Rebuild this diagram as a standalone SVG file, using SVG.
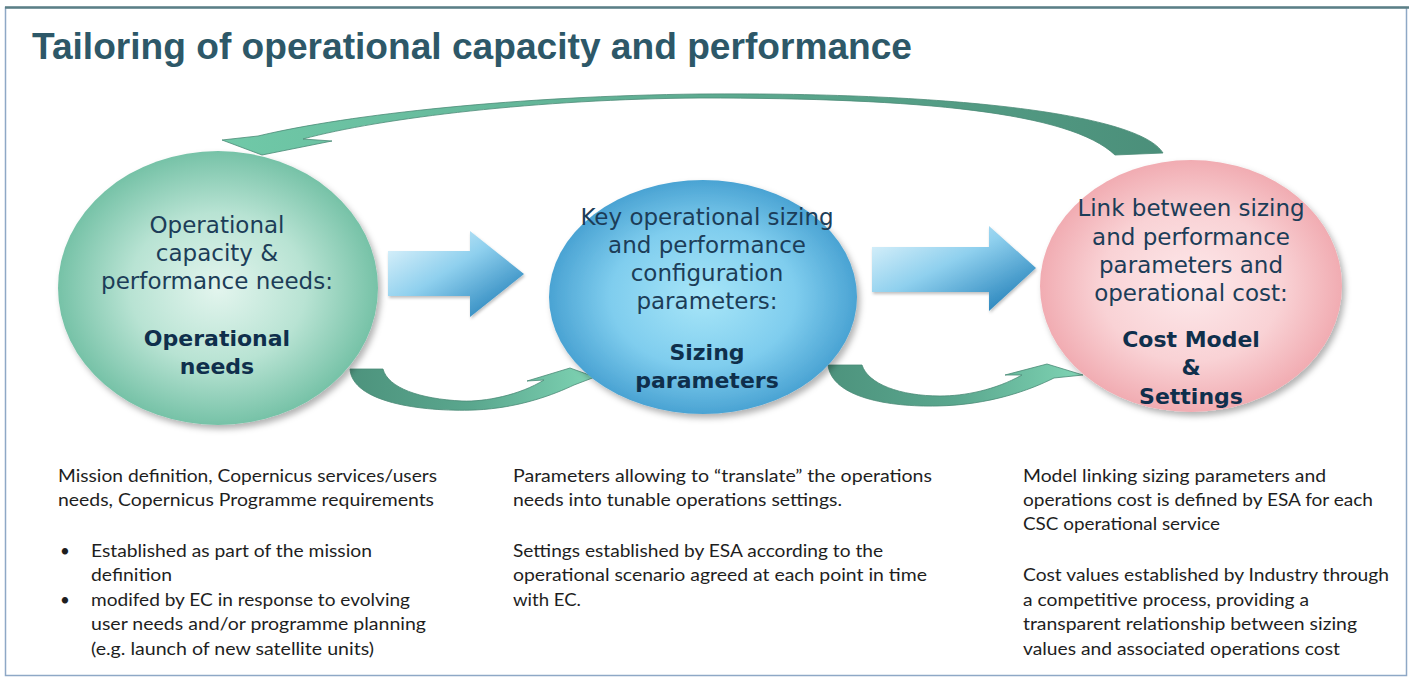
<svg xmlns="http://www.w3.org/2000/svg" width="1409" height="678" viewBox="0 0 1409 678">
<defs>
<style>
.title{font-family:"Liberation Sans",Arial,sans-serif;font-weight:bold;font-size:36px;fill:#2d5868}
.ct{font-family:"DejaVu Sans",Verdana,sans-serif;font-size:23px;fill:#1c3d58;text-anchor:middle}
.cb{font-family:"DejaVu Sans",Verdana,sans-serif;font-size:22px;font-weight:bold;fill:#0f2f4c;text-anchor:middle}
.bt{font-family:Lato,"Liberation Sans",sans-serif;font-size:17px;fill:#1e1e1e}
.curve{stroke:#4a8a76;stroke-width:0.8}
</style>
<radialGradient id="gGreen" cx="0.5" cy="0.5" r="0.5">
<stop offset="0" stop-color="#e3f5ee"/><stop offset="0.55" stop-color="#b8e3d3"/><stop offset="1" stop-color="#76c2a7"/>
</radialGradient>
<radialGradient id="gBlue" cx="0.5" cy="0.5" r="0.5">
<stop offset="0" stop-color="#a8e6f8"/><stop offset="0.6" stop-color="#7fcdee"/><stop offset="1" stop-color="#4aa3d3"/>
</radialGradient>
<radialGradient id="gPink" cx="0.5" cy="0.5" r="0.5">
<stop offset="0" stop-color="#fde9eb"/><stop offset="0.6" stop-color="#f9d2d5"/><stop offset="1" stop-color="#f1acb2"/>
</radialGradient>
<linearGradient id="gArrow" x1="0" y1="0" x2="1" y2="1">
<stop offset="0" stop-color="#eaf8fd"/><stop offset="0.45" stop-color="#8fd0ee"/><stop offset="1" stop-color="#0f72b0"/>
</linearGradient>
<linearGradient id="gTop" x1="0" y1="0" x2="1" y2="0">
<stop offset="0" stop-color="#70c9a8"/><stop offset="1" stop-color="#4b8f7a"/>
</linearGradient>
<linearGradient id="gLow" x1="0" y1="0" x2="1" y2="0">
<stop offset="0" stop-color="#4d937d"/><stop offset="0.5" stop-color="#5aa78e"/><stop offset="1" stop-color="#7fd4b4"/>
</linearGradient>
<filter id="shadow" x="-10%" y="-10%" width="125%" height="125%">
<feDropShadow dx="3" dy="4" stdDeviation="3" flood-color="#000" flood-opacity="0.3"/>
</filter>
<filter id="ashadow" x="-10%" y="-10%" width="130%" height="130%">
<feDropShadow dx="1" dy="2" stdDeviation="1.5" flood-color="#000" flood-opacity="0.25"/>
</filter>
</defs>
<rect x="0" y="0" width="1409" height="678" fill="#ffffff"/>
<rect x="5.5" y="7.5" width="1401" height="668" fill="none" stroke="#8ea8c6" stroke-width="1.5"/>
<line x1="5" y1="7.5" x2="1409" y2="7.5" stroke="#5b7f86" stroke-width="2.5"/>
<text class="title" x="32" y="59" textLength="880" lengthAdjust="spacingAndGlyphs">Tailoring of operational capacity and performance</text>

<g id="connectors">
<path class="curve" fill="url(#gTop)" d="M1163,153 C1140,115 960,92 700,94 C520,96 350,114 258,136 L222,140 L262,155 L332,141 L303,139 C380,118 540,99 700,98 C920,98 1070,112 1115,155 Z"/>
<path class="curve" fill="url(#gLow)" d="M350,369 C352,402 420,412 475,410 C520,408 555,394 574,385 L595,377 L570,368 L527,381 L544,380 C520,395 485,402 462,401 C420,399 388,388 383,369 Z"/>
<path class="curve" fill="url(#gLow)" d="M828,365 C832,398 890,407 937,406 C990,405 1030,390 1054,378 L1083,375 L1047,364 L1005,375 L1022,375 C995,390 965,396 940,396 C900,396 868,384 862,365 Z"/>
<polygon filter="url(#ashadow)" fill="url(#gArrow)" points="388,251 470,251 470,231 524,274 470,317 470,296 388,296"/>
<polygon filter="url(#ashadow)" fill="url(#gArrow)" points="872,247 989,247 989,226 1036,268 989,311 989,292 872,292"/>
</g>

<g id="node-operational-needs">
<ellipse cx="218" cy="288" rx="160" ry="137" fill="url(#gGreen)" filter="url(#shadow)"/>
<text class="ct" x="217" y="233">Operational</text>
<text class="ct" x="217" y="261">capacity &amp;</text>
<text class="ct" x="217" y="289">performance needs:</text>
<text class="cb" x="217" y="346">Operational</text>
<text class="cb" x="217" y="374">needs</text>
</g>

<g id="node-sizing-parameters">
<ellipse cx="703" cy="297" rx="154" ry="117" fill="url(#gBlue)" filter="url(#shadow)"/>
<text class="ct" x="707" y="225">Key operational sizing</text>
<text class="ct" x="707" y="253">and performance</text>
<text class="ct" x="707" y="281">configuration</text>
<text class="ct" x="707" y="309">parameters:</text>
<text class="cb" x="707" y="360">Sizing</text>
<text class="cb" x="707" y="388">parameters</text>
</g>

<g id="node-cost-model">
<ellipse cx="1191" cy="286" rx="151" ry="126" fill="url(#gPink)" filter="url(#shadow)"/>
<text class="ct" x="1191" y="216">Link between sizing</text>
<text class="ct" x="1191" y="245">and performance</text>
<text class="ct" x="1191" y="273">parameters and</text>
<text class="ct" x="1191" y="301">operational cost:</text>
<text class="cb" x="1191" y="347">Cost Model</text>
<text class="cb" x="1191" y="375">&amp;</text>
<text class="cb" x="1191" y="404">Settings</text>
</g>

<g id="text-col1">
<text class="bt" x="58" y="482" textLength="379" lengthAdjust="spacingAndGlyphs">Mission definition, Copernicus services/users</text>
<text class="bt" x="58" y="506" textLength="376" lengthAdjust="spacingAndGlyphs">needs, Copernicus Programme requirements</text>
<text class="bt" x="60" y="557">•</text>
<text class="bt" x="91" y="557" textLength="281" lengthAdjust="spacingAndGlyphs">Established as part of the mission</text>
<text class="bt" x="91" y="581" textLength="81" lengthAdjust="spacingAndGlyphs">definition</text>
<text class="bt" x="60" y="606">•</text>
<text class="bt" x="91" y="606" textLength="319" lengthAdjust="spacingAndGlyphs">modifed by EC in response to evolving</text>
<text class="bt" x="91" y="630" textLength="335" lengthAdjust="spacingAndGlyphs">user needs and/or programme planning</text>
<text class="bt" x="91" y="655" textLength="283" lengthAdjust="spacingAndGlyphs">(e.g. launch of new satellite units)</text>
</g>

<g id="text-col2">
<text class="bt" x="513" y="482" textLength="419" lengthAdjust="spacingAndGlyphs">Parameters allowing to “translate” the operations</text>
<text class="bt" x="513" y="506" textLength="329" lengthAdjust="spacingAndGlyphs">needs into tunable operations settings.</text>
<text class="bt" x="513" y="557" textLength="370" lengthAdjust="spacingAndGlyphs">Settings established by ESA according to the</text>
<text class="bt" x="513" y="581" textLength="414" lengthAdjust="spacingAndGlyphs">operational scenario agreed at each point in time</text>
<text class="bt" x="513" y="606" textLength="68" lengthAdjust="spacingAndGlyphs">with EC.</text>
</g>

<g id="text-col3">
<text class="bt" x="1023" y="482" textLength="303" lengthAdjust="spacingAndGlyphs">Model linking sizing parameters and</text>
<text class="bt" x="1023" y="506" textLength="350" lengthAdjust="spacingAndGlyphs">operations cost is defined by ESA for each</text>
<text class="bt" x="1023" y="530" textLength="197" lengthAdjust="spacingAndGlyphs">CSC operational service</text>
<text class="bt" x="1023" y="581" textLength="366" lengthAdjust="spacingAndGlyphs">Cost values established by Industry through</text>
<text class="bt" x="1023" y="606" textLength="286" lengthAdjust="spacingAndGlyphs">a competitive process, providing a</text>
<text class="bt" x="1023" y="630" textLength="334" lengthAdjust="spacingAndGlyphs">transparent relationship between sizing</text>
<text class="bt" x="1023" y="655" textLength="317" lengthAdjust="spacingAndGlyphs">values and associated operations cost</text>
</g>
</svg>
